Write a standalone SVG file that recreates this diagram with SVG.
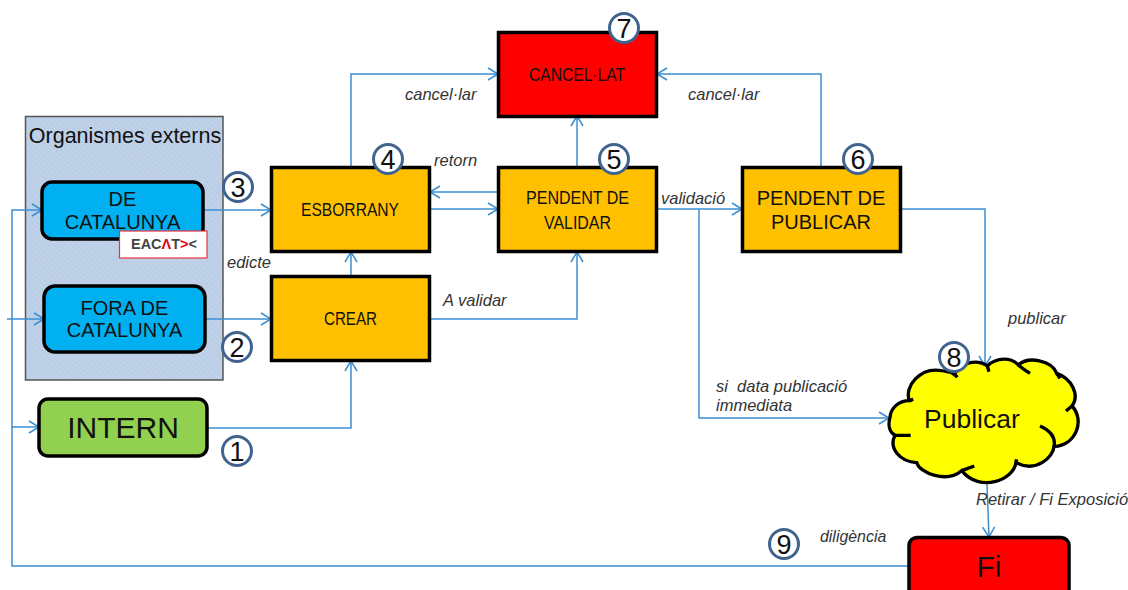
<svg xmlns="http://www.w3.org/2000/svg" width="1128" height="590" viewBox="0 0 1128 590">
<style>
text{font-family:"Liberation Sans",Arial,sans-serif;fill:#111}
.t{text-anchor:middle}
.box{stroke:#000;stroke-width:3.5}
.o{fill:#ffc000}.r{fill:#ff0000}.b{fill:#00b0f0}
.c{fill:none;stroke:#3a8fd3;stroke-width:1.5}
.l{font-style:italic;font-size:16.5px;fill:#333}
.n circle{fill:#fff;stroke:#41648f;stroke-width:3}
.n text{font-size:27px;text-anchor:middle;fill:#111}
.tick{fill:none;stroke:#000;stroke-width:10}
.s{font-size:17.5px}
</style>
<defs>
<marker id="a" markerUnits="userSpaceOnUse" markerWidth="14" markerHeight="16" refX="11" refY="7" orient="auto"><path d="M1 1L11 7L1 13" fill="none" stroke="#3a8fd3" stroke-width="1.5"/></marker>
<pattern id="h" width="4" height="4" patternUnits="userSpaceOnUse" patternTransform="rotate(45)"><rect width="4" height="4" fill="#b9cde5"/><rect width="4" height="1.5" fill="#c3d4e9"/></pattern>
</defs>
<rect width="1128" height="590" fill="#fff"/>
<g id="organismes-externs">
<rect x="25.5" y="116.5" width="197.5" height="263.5" fill="url(#h)" stroke="#555" stroke-width="1.5"/>
<text x="125" y="142.500" class="t" font-size="21.500">Organismes externs</text>
</g>
<g id="connectors">
<path class="c" d="M909 566H12V210H42" marker-end="url(#a)"/>
<path class="c" d="M12 427H39" marker-end="url(#a)"/>
<path class="c" d="M7 319H44" marker-end="url(#a)"/>
<path class="c" d="M203 210H271" marker-end="url(#a)"/>
<path class="c" d="M205 319H271" marker-end="url(#a)"/>
<path class="c" d="M207 428H351V361" marker-end="url(#a)"/>
<path class="c" d="M351 276V252" marker-end="url(#a)"/>
<path class="c" d="M351 167V74H498" marker-end="url(#a)"/>
<path class="c" d="M498 192H430" marker-end="url(#a)"/>
<path class="c" d="M430 209H498" marker-end="url(#a)"/>
<path class="c" d="M577 167V116" marker-end="url(#a)"/>
<path class="c" d="M430 319H577V252" marker-end="url(#a)"/>
<path class="c" d="M657 209H742" marker-end="url(#a)"/>
<path class="c" d="M821 167V74H657" marker-end="url(#a)"/>
<path class="c" d="M699 209V418H889" marker-end="url(#a)"/>
<path class="c" d="M901 209H985V366" marker-end="url(#a)"/>
<path class="c" d="M987 484L989 537" marker-end="url(#a)"/>
</g>
<g id="de-catalunya">
<rect class="box b" x="42" y="182" width="161" height="57" rx="10"/>
<text class="t" x="122.500" y="206" font-size="20">DE</text>
<text class="t" x="122.500" y="229" font-size="20">CATALUNYA</text>
</g>
<g id="eacat">
<rect x="119.500" y="231" width="87.500" height="27" fill="#fff" stroke="#e8333c" stroke-width="1.2"/>
<text x="131" y="249" font-size="14" font-weight="bold" textLength="66" lengthAdjust="spacingAndGlyphs" style="fill:#444">EAC<tspan style="fill:#e2001a">Λ</tspan>T<tspan style="fill:#e2001a">&gt;</tspan>&lt;</text>
</g>
<g id="fora-de-catalunya">
<rect class="box b" x="44" y="286" width="161" height="66" rx="11"/>
<text class="t" x="124.500" y="315" font-size="20">FORA DE</text>
<text class="t" x="124.500" y="337" font-size="20">CATALUNYA</text>
</g>
<g id="intern">
<rect class="box" fill="#92d050" x="39" y="399" width="168" height="57" rx="9"/>
<text class="t" x="123" y="438" font-size="30">INTERN</text>
</g>
<g id="esborrany">
<rect class="box o" x="271.500" y="167.500" width="158" height="84"/>
<text class="s" x="301" y="216" textLength="98" lengthAdjust="spacingAndGlyphs">ESBORRANY</text>
</g>
<g id="crear">
<rect class="box o" x="271.500" y="276.500" width="158" height="84"/>
<text class="s" x="324" y="325" textLength="53" lengthAdjust="spacingAndGlyphs">CREAR</text>
</g>
<g id="pendent-validar">
<rect class="box o" x="498.500" y="167.500" width="158" height="84"/>
<text class="s" x="526" y="204" textLength="103" lengthAdjust="spacingAndGlyphs">PENDENT DE</text>
<text class="s" x="544" y="229" textLength="67" lengthAdjust="spacingAndGlyphs">VALIDAR</text>
</g>
<g id="cancelat">
<rect class="box r" x="498.500" y="32.500" width="158" height="84"/>
<text class="s" x="529" y="81" textLength="96" lengthAdjust="spacingAndGlyphs">CANCEL·LAT</text>
</g>
<g id="pendent-publicar">
<rect class="box o" x="742.500" y="167.500" width="158" height="84"/>
<text class="t" x="821" y="205" font-size="20">PENDENT DE</text>
<text class="t" x="821" y="229" font-size="20">PUBLICAR</text>
</g>
<g id="publicar">
<g transform="translate(880 330) scale(.33333)">
<path fill="#ff0" stroke="#000" stroke-width="10" d="M30 262C32 235 55 212 88 212C72 170 120 110 185 122C200 124 215 130 226 128C240 100 290 85 322 108C350 80 395 82 415 105C445 78 515 90 530 130C575 145 600 195 576 228C615 270 590 345 522 350C520 380 470 430 408 398C400 450 300 490 245 422C200 460 120 430 110 398C60 395 25 355 45 316C25 305 25 280 30 262Z"/>
<path class="tick" d="M85 212L100 208M215 128Q226 134 232 142M322 108L327 125M415 105Q430 118 450 130M530 130L540 145M576 228L558 243M480 288Q530 310 522 350M408 398L410 388M245 422L283 408M45 316L92 316"/>
</g>
<text x="924" y="428" font-size="26.500">Publicar</text>
</g>
<g id="fi">
<rect class="box r" x="909" y="537.500" width="160" height="60" rx="8"/>
<text class="t" x="989" y="577" font-size="30">Fi</text>
</g>
<g id="labels">
<text class="l" x="405" y="100">cancel·lar</text>
<text class="l" x="688" y="100">cancel·lar</text>
<text class="l" x="434" y="166">retorn</text>
<text class="l" x="661" y="204">validació</text>
<text class="l" x="227" y="268">edicte</text>
<text class="l" x="443" y="306">A validar</text>
<text class="l" x="1008" y="324">publicar</text>
<text class="l" x="716" y="392" xml:space="preserve">si  data publicació</text>
<text class="l" x="716" y="411">immediata</text>
<text class="l" x="976" y="505">Retirar / Fi Exposició</text>
<text class="l" x="820" y="542" style="font-size:15.900px">diligència</text>
</g>
<g id="n1" class="n"><circle cx="237" cy="451" r="14.500"/><text x="237" y="460.500">1</text></g>
<g id="n2" class="n"><circle cx="237" cy="347" r="14.500"/><text x="237" y="356.500">2</text></g>
<g id="n3" class="n"><circle cx="238" cy="187" r="14.500"/><text x="238" y="196.500">3</text></g>
<g id="n4" class="n"><circle cx="388" cy="159" r="14.500"/><text x="388" y="168.500">4</text></g>
<g id="n5" class="n"><circle cx="614" cy="159" r="14.500"/><text x="614" y="168.500">5</text></g>
<g id="n6" class="n"><circle cx="858" cy="159" r="14.500"/><text x="858" y="168.500">6</text></g>
<g id="n7" class="n"><circle cx="624" cy="28" r="14.500"/><text x="624" y="37.500">7</text></g>
<g id="n8" class="n"><circle cx="954" cy="357" r="14.500"/><text x="954" y="366.500">8</text></g>
<g id="n9" class="n"><circle cx="784" cy="544" r="14.500"/><text x="784" y="553.500">9</text></g>
</svg>
